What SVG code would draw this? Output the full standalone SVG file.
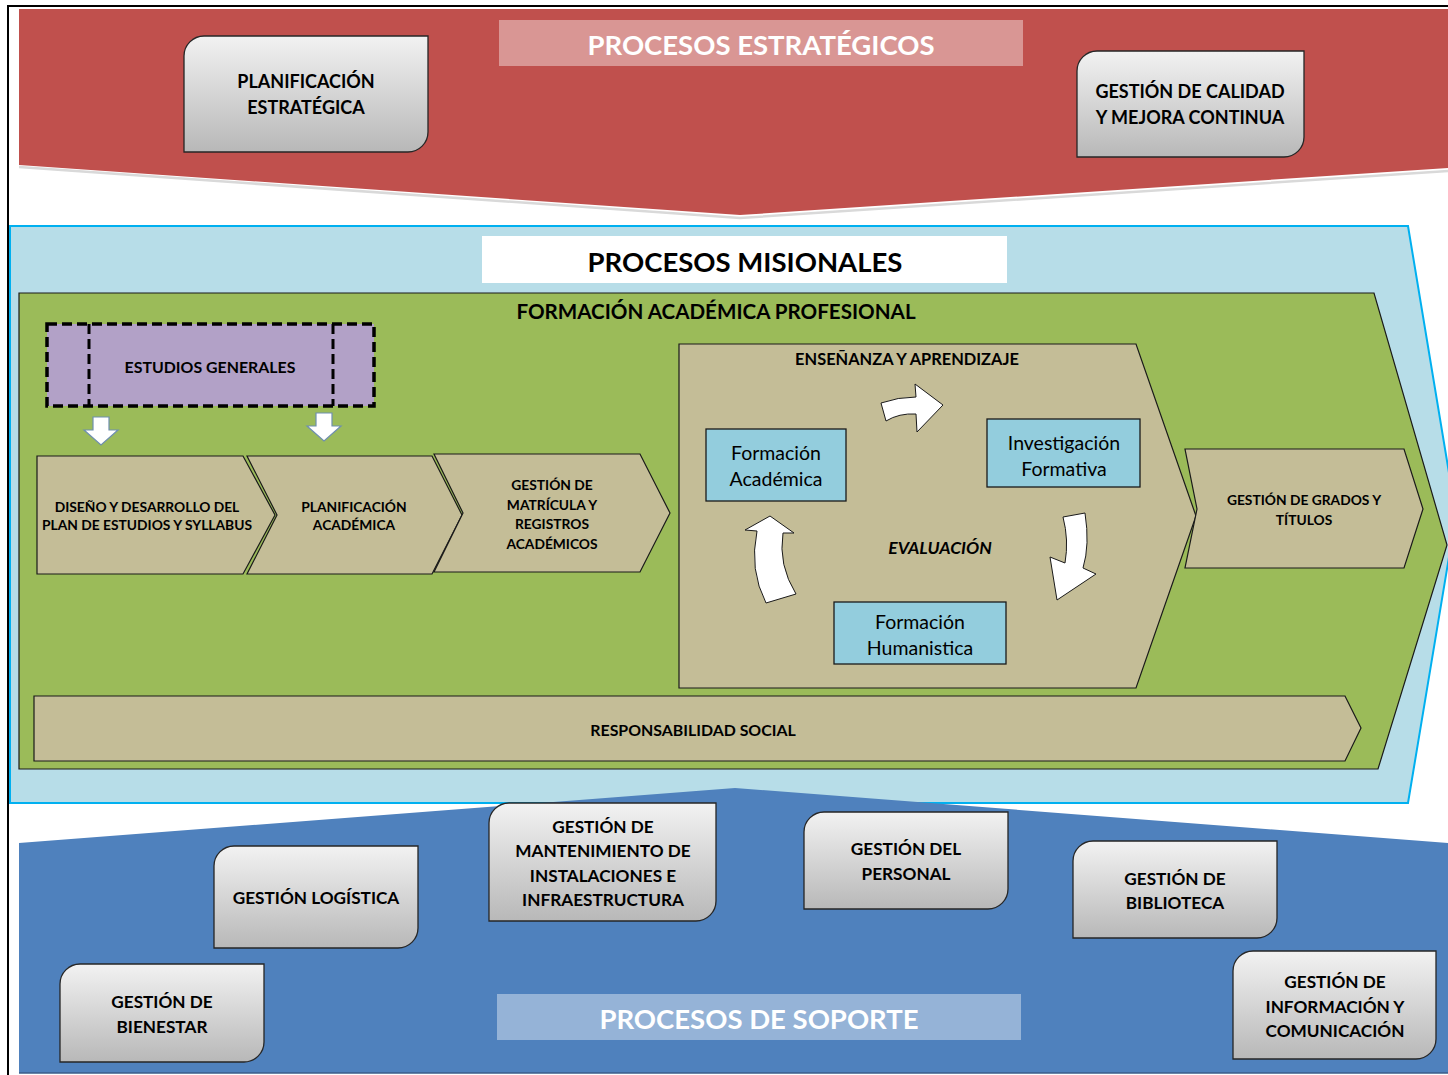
<svg xmlns="http://www.w3.org/2000/svg" width="1448" height="1075" viewBox="0 0 1448 1075">
<defs>
<linearGradient id="gray" x1="0" y1="0" x2="0" y2="1">
<stop offset="0" stop-color="#F2F2F2"/>
<stop offset="1" stop-color="#B8B8B8"/>
</linearGradient>
<style>
text{font-family:Lato,"Liberation Sans",sans-serif;text-anchor:middle;dominant-baseline:central;fill:#000}
.b{font-weight:bold}
.title{font-weight:bold;font-size:27.5px;fill:#fff}
.gbox{fill:url(#gray);stroke:#262626;stroke-width:1.3}
.box{font-weight:bold;font-size:18px}
.sbox{font-weight:bold;font-size:17.2px}
.tan{fill:#C4BD97;stroke:#1a1a1a;stroke-width:1.2}
.chev{font-weight:bold;font-size:13.8px}
.cyan{fill:#93CDDD;stroke:#1a1a1a;stroke-width:1.3}
.inner{font-size:19.5px}
.warrow{fill:#fff;stroke:#1a1a1a;stroke-width:1}
.darrow{fill:#fff;stroke:#6F8FAF;stroke-width:1.2}
</style>
</defs>
<rect width="1448" height="1075" fill="#fff"/>
<path d="M8,1075 V6 H1448" fill="none" stroke="#000" stroke-width="2"/>

<g id="estrategicos">
<polyline points="19,167 740,218 1448,171" fill="none" stroke="#D9D9D9" stroke-width="2.5"/>
<polygon points="19,9 1448,9 1448,168 740,215 19,165" fill="#C0504D"/>
<rect x="499" y="20" width="524" height="46" fill="#D99694"/>
<text class="title" x="761" y="44">PROCESOS ESTRATÉGICOS</text>
</g>
<g id="planificacion-estrategica">
<path class="gbox" d="M204,36 H428 V132 A20,20 0 0 1 408,152 H184 V56 A20,20 0 0 1 204,36 Z"/>
<text class="box" x="306" y="81">PLANIFICACIÓN</text>
<text class="box" x="306" y="107">ESTRATÉGICA</text>
</g>
<g id="gestion-calidad">
<path class="gbox" d="M1097,51 H1304 V137 A20,20 0 0 1 1284,157 H1077 V71 A20,20 0 0 1 1097,51 Z"/>
<text class="box" x="1190" y="91">GESTIÓN DE CALIDAD</text>
<text class="box" x="1190" y="117">Y MEJORA CONTINUA</text>
</g>

<g id="misionales">
<polygon points="10,226 1408,226 1456,515 1408,803 10,803" fill="#B7DDE8" stroke="#00B0F0" stroke-width="2"/>
<rect x="482" y="236" width="525" height="47" fill="#fff"/>
<text class="b" x="745" y="261" style="font-size:27.5px">PROCESOS MISIONALES</text>
</g>

<g id="formacion-academica-profesional">
<polygon points="19,293 1374,293 1447,545 1378,769 19,769" fill="#9BBB59" stroke="#1a1a1a" stroke-width="1.2"/>
<text class="b" x="716" y="311" style="font-size:20.6px">FORMACIÓN ACADÉMICA PROFESIONAL</text>
</g>

<g id="estudios-generales">
<rect x="47" y="324" width="327" height="82" fill="#B2A1C7" stroke="#000" stroke-width="3.5" stroke-dasharray="10,5"/>
<line x1="89" y1="324" x2="89" y2="406" stroke="#000" stroke-width="3" stroke-dasharray="10,5"/>
<line x1="333" y1="324" x2="333" y2="406" stroke="#000" stroke-width="3" stroke-dasharray="10,5"/>
<text class="b" x="210" y="366" style="font-size:15.9px">ESTUDIOS GENERALES</text>
</g>

<g id="diseno-desarrollo">
<polygon class="tan" points="37,456 243,456 275,515 243,574 37,574"/>
<text class="chev" x="147" y="506">DISEÑO Y DESARROLLO DEL</text>
<text class="chev" x="147" y="524">PLAN DE ESTUDIOS Y SYLLABUS</text>
</g>
<g id="planificacion-academica">
<polygon class="tan" points="247,456 432,456 462,515 432,574 247,574 277,515"/>
<text class="chev" x="354" y="506">PLANIFICACIÓN</text>
<text class="chev" x="354" y="524">ACADÉMICA</text>
</g>
<g id="gestion-matricula">
<polygon class="tan" points="434,454 640,454 670,513 640,572 434,572 463,513"/>
<text class="chev" x="552" y="484">GESTIÓN DE</text>
<text class="chev" x="552" y="504">MATRÍCULA Y</text>
<text class="chev" x="552" y="523">REGISTROS</text>
<text class="chev" x="552" y="543">ACADÉMICOS</text>
</g>

<g id="ensenanza-aprendizaje">
<polygon class="tan" points="679,344 1136,344 1196,516 1136,688 679,688"/>
<text class="b" x="907" y="358" style="font-size:16.4px">ENSEÑANZA Y APRENDIZAJE</text>
<text class="b" x="940" y="547" style="font-size:17.5px;font-style:italic">EVALUACIÓN</text>
</g>
<g id="formacion-academica">
<rect class="cyan" x="706" y="429" width="140" height="72"/>
<text class="inner" x="776" y="452">Formación</text>
<text class="inner" x="776" y="478">Académica</text>
</g>
<g id="investigacion-formativa">
<rect class="cyan" x="987" y="419" width="153" height="68"/>
<text class="inner" x="1064" y="442">Investigación</text>
<text class="inner" x="1064" y="468">Formativa</text>
</g>
<g id="formacion-humanistica">
<rect class="cyan" x="834" y="602" width="172" height="62"/>
<text class="inner" x="920" y="621">Formación</text>
<text class="inner" x="920" y="647">Humanistica</text>
</g>

<g id="gestion-grados">
<polygon class="tan" points="1185,449 1404,449 1423,509 1404,568 1185,568 1197,509"/>
<text class="chev" x="1304" y="499">GESTIÓN DE GRADOS Y</text>
<text class="chev" x="1304" y="519">TÍTULOS</text>
</g>

<g id="responsabilidad-social">
<polygon class="tan" points="34,696 1345,696 1361,728 1345,761 34,761"/>
<text class="b" x="693" y="729" style="font-size:15.9px">RESPONSABILIDAD SOCIAL</text>
</g>

<g id="connectors">
<path class="darrow" d="M93,417 H109 V430 H118 L101,445 L84,430 H93 Z"/>
<path class="darrow" d="M316,413 H332 V426 H341 L324,441 L307,426 H316 Z"/>
<path class="warrow" d="M881,403 Q898,397 916,397 L915,384 L943,405 L917,432 L916,414 Q899,413 886,421 Z"/>
<path class="warrow" d="M1063,517 L1085,513 Q1090,545 1083,568 L1096,574 L1057,600 L1050,557 L1065,563 Q1069,540 1063,517 Z"/>
<path class="warrow" d="M766,603 Q749,570 757,531 L745,530 L770,516 L794,533 L783,533 Q778,565 796,594 Z"/>
</g>

<g id="soporte">
<polyline points="19,845 735,790 1448,845" fill="none" stroke="#DCE6F2" stroke-width="2"/>
<polygon points="19,843 735,788 1448,843 1448,1073 19,1073" fill="#4F81BD"/>
<line x1="19" y1="1073" x2="1448" y2="1073" stroke="#385D8A" stroke-width="1.5"/>
<rect x="497" y="994" width="524" height="46" fill="#95B3D7"/>
<text class="title" x="759" y="1018">PROCESOS DE SOPORTE</text>
</g>
<g id="gestion-mantenimiento">
<path class="gbox" d="M509,803 H716 V901 A20,20 0 0 1 696,921 H489 V823 A20,20 0 0 1 509,803 Z"/>
<text class="sbox" x="603" y="826">GESTIÓN DE</text>
<text class="sbox" x="603" y="850">MANTENIMIENTO DE</text>
<text class="sbox" x="603" y="875">INSTALACIONES E</text>
<text class="sbox" x="603" y="899">INFRAESTRUCTURA</text>
</g>
<g id="gestion-logistica">
<path class="gbox" d="M234,846 H418 V928 A20,20 0 0 1 398,948 H214 V866 A20,20 0 0 1 234,846 Z"/>
<text class="sbox" x="316" y="897">GESTIÓN LOGÍSTICA</text>
</g>
<g id="gestion-personal">
<path class="gbox" d="M824,812 H1008 V889 A20,20 0 0 1 988,909 H804 V832 A20,20 0 0 1 824,812 Z"/>
<text class="sbox" x="906" y="848">GESTIÓN DEL</text>
<text class="sbox" x="906" y="873">PERSONAL</text>
</g>
<g id="gestion-biblioteca">
<path class="gbox" d="M1093,841 H1277 V918 A20,20 0 0 1 1257,938 H1073 V861 A20,20 0 0 1 1093,841 Z"/>
<text class="sbox" x="1175" y="878">GESTIÓN DE</text>
<text class="sbox" x="1175" y="902">BIBLIOTECA</text>
</g>
<g id="gestion-bienestar">
<path class="gbox" d="M80,964 H264 V1042 A20,20 0 0 1 244,1062 H60 V984 A20,20 0 0 1 80,964 Z"/>
<text class="sbox" x="162" y="1001">GESTIÓN DE</text>
<text class="sbox" x="162" y="1026">BIENESTAR</text>
</g>
<g id="gestion-informacion">
<path class="gbox" d="M1253,951 H1436 V1039 A20,20 0 0 1 1416,1059 H1233 V971 A20,20 0 0 1 1253,951 Z"/>
<text class="sbox" x="1335" y="981">GESTIÓN DE</text>
<text class="sbox" x="1335" y="1006">INFORMACIÓN Y</text>
<text class="sbox" x="1335" y="1030">COMUNICACIÓN</text>
</g>
</svg>
